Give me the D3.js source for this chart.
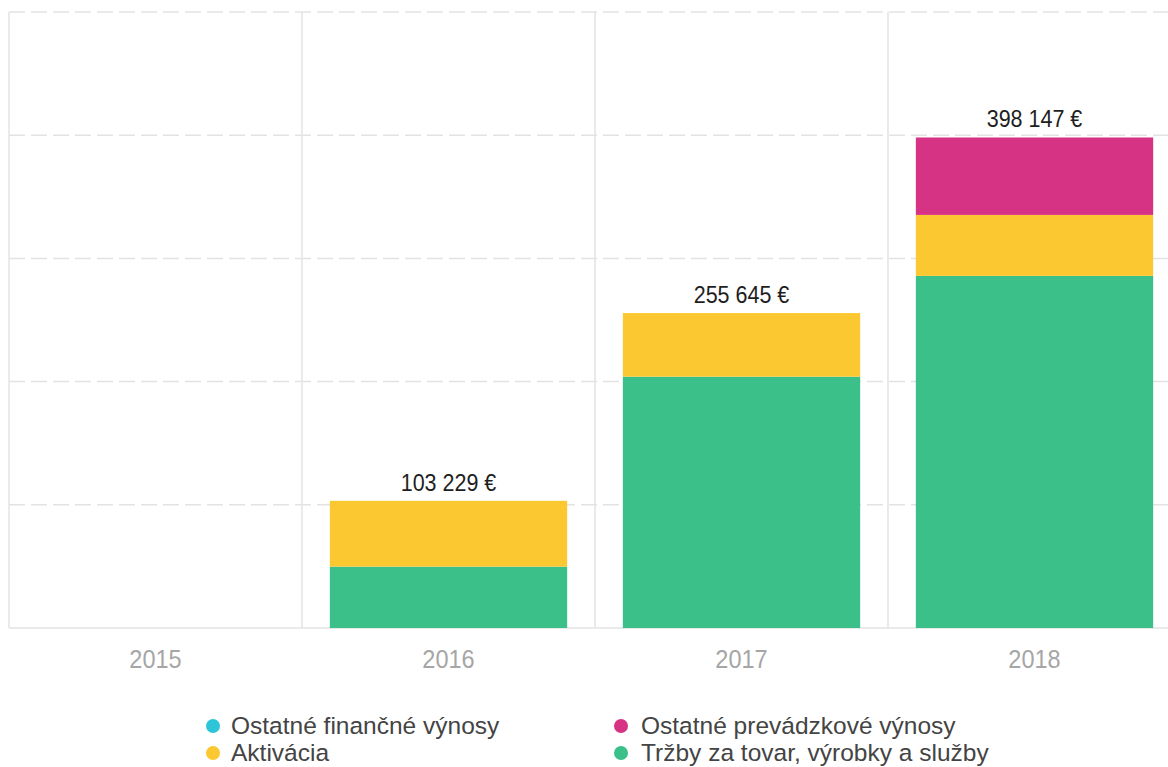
<!DOCTYPE html>
<html lang="sk">
<head>
  <meta charset="UTF-8">
  <title>Výnosy</title>
  <script src="https://cdn.jsdelivr.net/npm/d3@7"></script>
  <style>
    body { margin: 0; background: #fff; font-family: 'Liberation Sans', Arial, sans-serif; }
    .grid line { stroke: #e3e3e3; stroke-width: 1.5px; }
    .xaxis text { fill: #a6a6a6; font-size: 23.5px; }
    .total { fill: #1e1e1e; font-size: 21.5px; }
    .legend text { fill: #444; font-size: 24.5px; }
  </style>
</head>
<body>
<div class="container"></div>
<script>
  var years = ['2015', '2016', '2017', '2018'];
  var trzby = [0, 49800, 204000, 285800];
  var aktivacia = [0, 53429, 51645, 49500];
  var prevadzkove = [0, 0, 0, 62847];
  var financne = [0, 0, 0, 0];
  var yTicks = [0, 100000, 200000, 300000, 400000, 500000];

  var seriesNames = ['Tržby za tovar, výrobky a služby', 'Aktivácia', 'Ostatné prevádzkové výnosy', 'Ostatné finančné výnosy'];
  var seriesColors = ['#3cc08a', '#fcc832', '#d63384', '#2ec5d8'];
  var legendOrder = [3, 2, 1, 0];

  var svgWidth = 1168, svgHeight = 767;
  var margin = {left: 9, top: 12};
  var width = 1172, height = 616;

  var svg = d3.select('.container').append('svg')
      .attr('width', svgWidth).attr('height', svgHeight);

  var rows = years.map((y, i) => ({
    year: y, s0: trzby[i], s1: aktivacia[i], s2: prevadzkove[i], s3: financne[i]
  }));
  var stacked = d3.stack().keys(['s0', 's1', 's2', 's3'])(rows);
  var total = d => d.s0 + d.s1 + d.s2 + d.s3;

  var x = d3.scaleBand().domain(years).range([0, width]).paddingInner(0.19).paddingOuter(0.095);
  var xGrid = d3.scaleBand().domain(years).range([0, width]);
  var y = d3.scaleLinear().domain([0, 500000]).range([height, 0]);

  var g = svg.append('g').attr('transform', `translate(${margin.left},${margin.top})`);

  // grid
  var grid = g.append('g').attr('class', 'grid');
  grid.selectAll('.h').data(yTicks).enter().append('line')
      .attr('x1', 0).attr('x2', width)
      .attr('y1', d => y(d)).attr('y2', d => y(d))
      .style('stroke-dasharray', d => d === 0 ? null : '16,6');
  grid.selectAll('.v').data(years).enter().append('line')
      .attr('x1', d => xGrid(d)).attr('x2', d => xGrid(d))
      .attr('y1', 0).attr('y2', height);

  // bars
  g.selectAll('.layer').data(stacked).enter().append('g')
      .attr('fill', (d, i) => seriesColors[i])
      .selectAll('rect').data(d => d).enter().append('rect')
      .attr('x', d => x(d.data.year))
      .attr('width', x.bandwidth())
      .attr('y', d => y(d[1]))
      .attr('height', d => y(d[0]) - y(d[1]));

  // totals (glyphs in the picture are a little taller than Liberation Sans)
  var fmt = v => d3.format(',')(v).replace(/,/g, ' ') + ' €';
  g.selectAll('.total').data(rows.filter(d => total(d) > 0)).enter().append('text')
      .attr('class', 'total')
      .attr('transform', d => `translate(${x(d.year) + x.bandwidth() / 2},${y(total(d)) - 10}) scale(1,1.08)`)
      .attr('text-anchor', 'middle')
      .text(d => fmt(total(d)));

  // x axis
  g.append('g').attr('class', 'xaxis')
      .selectAll('text').data(years).enter().append('text')
      .attr('transform', d => `translate(${xGrid(d) + xGrid.bandwidth() / 2},${height + 40}) scale(1,1.07)`)
      .attr('text-anchor', 'middle')
      .text(d => d);

  // legend
  var legendPos = [[213, 734], [621, 734], [213, 761], [621, 761]];
  var legend = svg.append('g').attr('class', 'legend');
  legendOrder.forEach((si, k) => {
    var p = legendPos[k];
    legend.append('circle').attr('cx', p[0]).attr('cy', p[1] - 8).attr('r', 7).attr('fill', seriesColors[si]);
    legend.append('text')
      .attr('x', p[0] + 18 + (k % 2) * 2)
      .attr('y', p[1])
      .text(seriesNames[si]);
  });
</script>
</body>
</html>
